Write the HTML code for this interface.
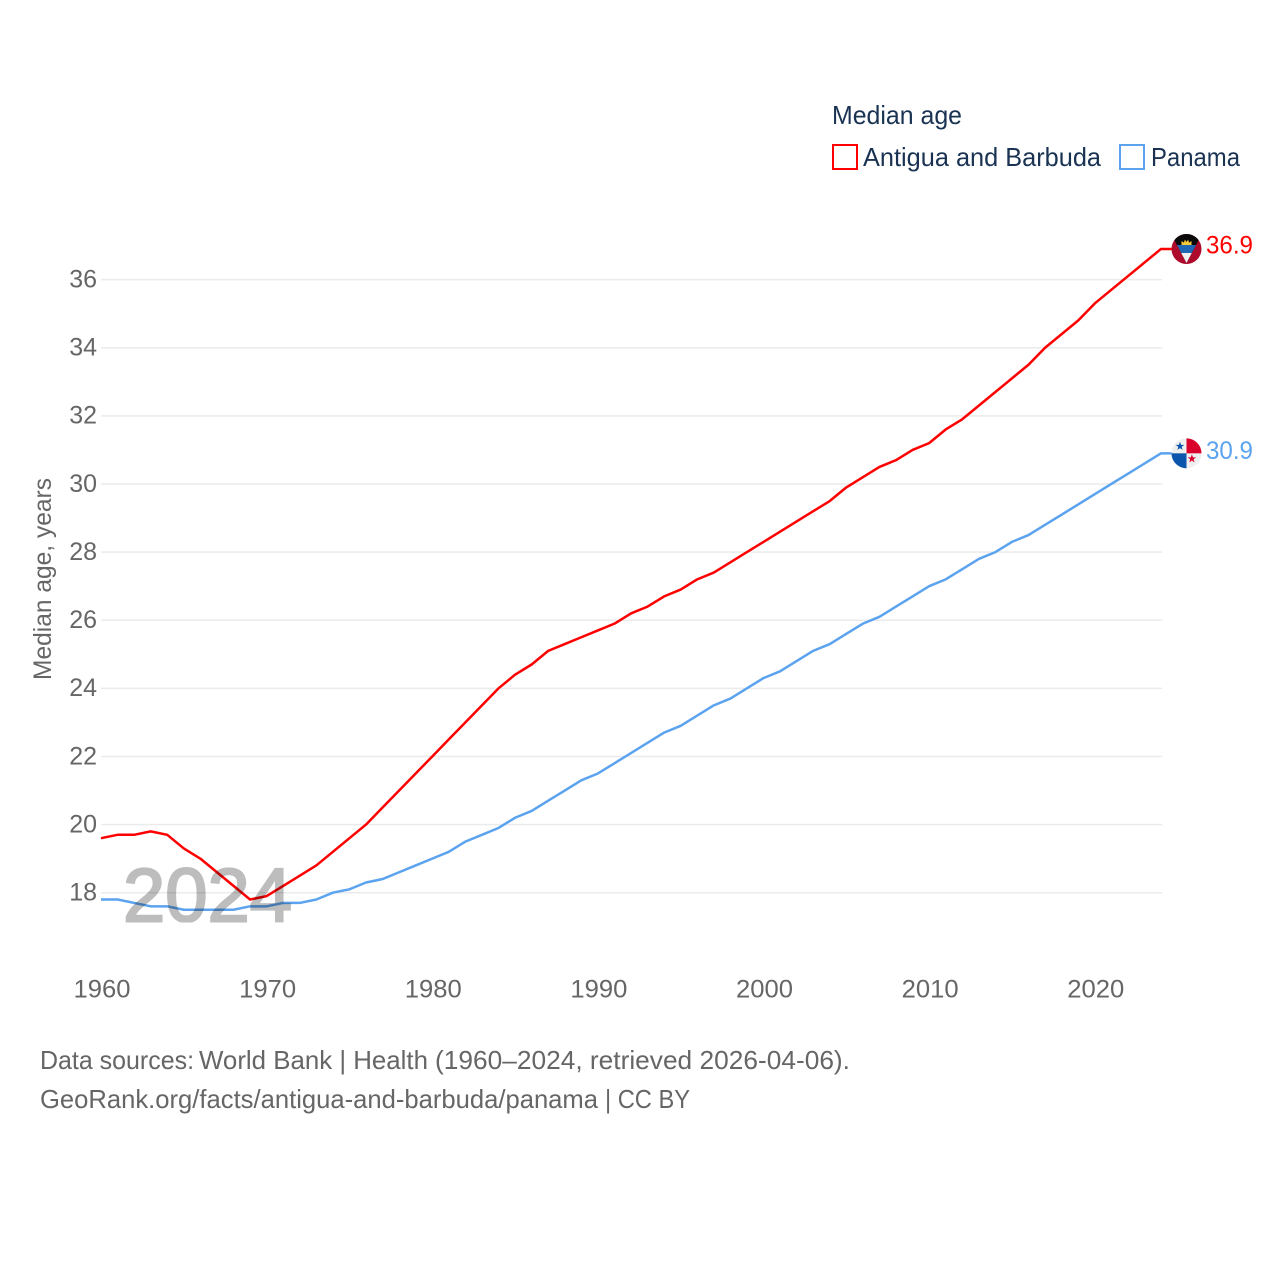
<!DOCTYPE html>
<html lang="en">
<head>
<meta charset="utf-8">
<title>Median age: Antigua and Barbuda vs Panama</title>
<style>
html,body{margin:0;padding:0;background:#fff;}
svg{display:block;font-family:"Liberation Sans",sans-serif;}
</style>
</head>
<body>
<svg id="chart" xmlns="http://www.w3.org/2000/svg" width="1280" height="1280" viewBox="0 0 1280 1280">
  <defs>
    <clipPath id="flag-clip"><circle cx="0" cy="0" r="15"/></clipPath>
    <clipPath id="year-clip"><rect x="100" y="850" width="220" height="72.5"/></clipPath>
  </defs>
  <rect x="0" y="0" width="1280" height="1280" fill="#fff"/>
  <g id="grid"></g>
  <g id="y-ticks"></g>
  <g id="x-ticks"></g>
  <g id="series"></g>

  <g clip-path="url(#year-clip)" style="mix-blend-mode:multiply">
    <text x="123" y="921.5" font-size="76" fill="#bdbdbd" stroke="#bdbdbd" stroke-width="2.2" textLength="169" lengthAdjust="spacingAndGlyphs">2024</text>
  </g>

  <text transform="translate(51,680) rotate(-90)" font-size="25" fill="#666" textLength="202" lengthAdjust="spacingAndGlyphs">Median age, years</text>

  <g id="flag-antigua">
    <g clip-path="url(#flag-clip)">
      <rect x="-16" y="-16" width="32" height="32" fill="#ad0a2c"/>
      <polygon points="-16,-16 16,-16 0,14" fill="#0a0a0a"/>
      <polygon points="-9.5,-4 9.5,-4 5.3,4 -5.3,4" fill="#1f66b5"/>
      <polygon points="-5.3,4 5.3,4 0,14" fill="#f1f1f1"/>
      <polygon points="-5,-4 -5,-8 -2.6,-6.4 -1.6,-9.4 0,-7 1.6,-9.4 2.6,-6.4 5,-8 5,-4" fill="#f6c93b"/>
    </g>
  </g>
  <g id="flag-panama">
    <g clip-path="url(#flag-clip)">
      <rect x="-16" y="-16" width="32" height="32" fill="#efefef"/>
      <rect x="0" y="-16" width="16" height="16" fill="#d9002c"/>
      <rect x="-16" y="0" width="16" height="16" fill="#0b55ad"/>
      <polygon points="0,-4.5 1.1,-1.4 4.3,-1.4 1.7,0.5 2.6,3.6 0,1.8 -2.6,3.6 -1.7,0.5 -4.3,-1.4 -1.1,-1.4" fill="#0b55ad" transform="translate(-6.5,-7)"/>
      <polygon points="0,-4.5 1.1,-1.4 4.3,-1.4 1.7,0.5 2.6,3.6 0,1.8 -2.6,3.6 -1.7,0.5 -4.3,-1.4 -1.1,-1.4" fill="#d9002c" transform="translate(5.4,5.4)"/>
    </g>
  </g>

  <text id="label-antigua" x="1206" font-size="25" fill="#ff0000" textLength="47" lengthAdjust="spacingAndGlyphs"></text>
  <text id="label-panama" x="1206" font-size="25" fill="#5ba3ef" textLength="47" lengthAdjust="spacingAndGlyphs"></text>

  <g>
    <text x="832" y="124" font-size="26" fill="#1a3353" textLength="130" lengthAdjust="spacingAndGlyphs">Median age</text>
    <rect x="833" y="145" width="24" height="24" fill="#fff" stroke="#ff0000" stroke-width="2"/>
    <text x="863" y="166" font-size="26" fill="#1a3353" textLength="238" lengthAdjust="spacingAndGlyphs">Antigua and Barbuda</text>
    <rect x="1120" y="145" width="24" height="24" fill="#fff" stroke="#5ba3ef" stroke-width="2"/>
    <text x="1151" y="166" font-size="26" fill="#1a3353" textLength="89" lengthAdjust="spacingAndGlyphs">Panama</text>
  </g>

  <g>
    <text x="40" y="1069" font-size="26" fill="#666" textLength="154" lengthAdjust="spacingAndGlyphs">Data sources:</text>
    <text x="199" y="1069" font-size="26" fill="#666" textLength="229" lengthAdjust="spacingAndGlyphs">World Bank | Health</text>
    <text x="435" y="1069" font-size="26" fill="#666" textLength="415" lengthAdjust="spacingAndGlyphs">(1960–2024, retrieved 2026-04-06).</text>
    <text x="40" y="1108" font-size="26" fill="#666" textLength="558" lengthAdjust="spacingAndGlyphs">GeoRank.org/facts/antigua-and-barbuda/panama</text>
    <text x="605" y="1108" font-size="26" fill="#666" textLength="85" lengthAdjust="spacingAndGlyphs">| CC BY</text>
  </g>
</svg>
<script>
const startYear = 1960;
const yTickLabels = [18, 20, 22, 24, 26, 28, 30, 32, 34, 36];
const xTickLabels = [1960, 1970, 1980, 1990, 2000, 2010, 2020];
const antiguaValues = [
  19.6, 19.7, 19.7, 19.8, 19.7, 19.3, 19.0, 18.6, 18.2, 17.8,
  17.9, 18.2, 18.5, 18.8, 19.2, 19.6, 20.0, 20.5, 21.0, 21.5,
  22.0, 22.5, 23.0, 23.5, 24.0, 24.4, 24.7, 25.1, 25.3, 25.5,
  25.7, 25.9, 26.2, 26.4, 26.7, 26.9, 27.2, 27.4, 27.7, 28.0,
  28.3, 28.6, 28.9, 29.2, 29.5, 29.9, 30.2, 30.5, 30.7, 31.0,
  31.2, 31.6, 31.9, 32.3, 32.7, 33.1, 33.5, 34.0, 34.4, 34.8,
  35.3, 35.7, 36.1, 36.5, 36.9
];
const panamaValues = [
  17.8, 17.8, 17.7, 17.6, 17.6, 17.5, 17.5, 17.5, 17.5, 17.6,
  17.6, 17.7, 17.7, 17.8, 18.0, 18.1, 18.3, 18.4, 18.6, 18.8,
  19.0, 19.2, 19.5, 19.7, 19.9, 20.2, 20.4, 20.7, 21.0, 21.3,
  21.5, 21.8, 22.1, 22.4, 22.7, 22.9, 23.2, 23.5, 23.7, 24.0,
  24.3, 24.5, 24.8, 25.1, 25.3, 25.6, 25.9, 26.1, 26.4, 26.7,
  27.0, 27.2, 27.5, 27.8, 28.0, 28.3, 28.5, 28.8, 29.1, 29.4,
  29.7, 30.0, 30.3, 30.6, 30.9
];

const SVG_NS = 'http://www.w3.org/2000/svg';
function xScale(year) { return 101 + (year - 1960) * 16.5625; }
function yScale(value) { return 892.7 - (value - 18) * 34.06; }
function make(tag, attrs, parent) {
  const el = document.createElementNS(SVG_NS, tag);
  for (const k in attrs) el.setAttribute(k, attrs[k]);
  parent.appendChild(el);
  return el;
}

const gridGroup = document.getElementById('grid');
const yTickGroup = document.getElementById('y-ticks');
const xTickGroup = document.getElementById('x-ticks');
const seriesGroup = document.getElementById('series');

yTickLabels.forEach(function (tick) {
  const line = make('line', { x1: 101, x2: 1162, y1: yScale(tick), y2: yScale(tick), stroke: '#ebebeb', 'stroke-width': 1.5 }, gridGroup);
  
  
  const label = make('text', { x: 97, y: yScale(tick) + 7.8, 'text-anchor': 'end', 'font-size': 25, fill: '#666' }, yTickGroup);
  
  
  label.textContent = String(tick);
});

xTickLabels.forEach(function (tick) {
  const label = make('text', { x: xScale(tick) + 1, y: 997.5, 'text-anchor': 'middle', 'font-size': 25, fill: '#666', textLength: 57, lengthAdjust: 'spacingAndGlyphs' }, xTickGroup);
  
  
  label.textContent = String(tick);
});

function linePath(values) {
  let d = '';
  values.forEach(function (v, i) {
    d += (i ? 'L' : 'M') + xScale(startYear + i).toFixed(2) + ' ' + yScale(v).toFixed(2);
  });
  d += 'H1172';
  return d;
}

const antiguaLine = make('path', { d: linePath(antiguaValues), fill: 'none', stroke: '#ff0000', 'stroke-width': 2.5, 'stroke-linejoin': 'round' }, seriesGroup);



const panamaLine = make('path', { d: linePath(panamaValues), fill: 'none', stroke: '#5ba3ef', 'stroke-width': 2.5, 'stroke-linejoin': 'round' }, seriesGroup);



const lastAntigua = antiguaValues[antiguaValues.length - 1];
const lastPanama = panamaValues[panamaValues.length - 1];
document.getElementById('flag-antigua').setAttribute('transform', 'translate(1186.5,' + yScale(lastAntigua) + ')');
document.getElementById('flag-panama').setAttribute('transform', 'translate(1186.5,' + yScale(lastPanama) + ')');
const labelAntigua = document.getElementById('label-antigua');
labelAntigua.setAttribute('y', yScale(lastAntigua) + 4.5);
labelAntigua.textContent = lastAntigua.toFixed(1);
const labelPanama = document.getElementById('label-panama');
labelPanama.setAttribute('y', yScale(lastPanama) + 5.5);
labelPanama.textContent = lastPanama.toFixed(1);
</script>
</body>
</html>
